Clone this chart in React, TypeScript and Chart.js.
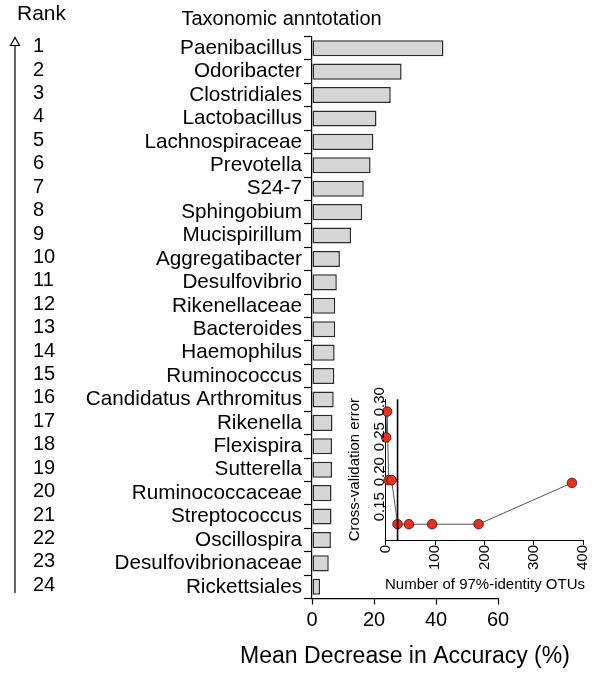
import React, { useEffect, useRef } from "react";
import { Chart, registerables } from "chart.js";

Chart.register(...registerables);

// Random-forest importance of taxa, ranked
const taxa = [
  "Paenibacillus",
  "Odoribacter",
  "Clostridiales",
  "Lactobacillus",
  "Lachnospiraceae",
  "Prevotella",
  "S24-7",
  "Sphingobium",
  "Mucispirillum",
  "Aggregatibacter",
  "Desulfovibrio",
  "Rikenellaceae",
  "Bacteroides",
  "Haemophilus",
  "Ruminococcus",
  "Candidatus Arthromitus",
  "Rikenella",
  "Flexispira",
  "Sutterella",
  "Ruminococcaceae",
  "Streptococcus",
  "Oscillospira",
  "Desulfovibrionaceae",
  "Rickettsiales",
];
const meanDecrease = [
  42.4, 28.9, 25.4, 20.8, 19.8, 18.9, 16.7, 16.2, 12.6, 9.0, 8.0, 7.5, 7.5,
  7.3, 7.2, 7.0, 6.6, 6.45, 6.45, 6.3, 6.3, 6.1, 5.4, 2.6,
];
const rankLabels = [
  "1", "2", "3", "4", "5", "6", "7", "8", "9", "10", "11", "12",
  "13", "14", "15", "16", "17", "18", "19", "20", "21", "22", "23", "24",
];
const accuracyTicks = [0, 20, 40, 60];

// Cross-validation curve
const otuCounts = [1, 3, 6, 12, 24, 47, 94, 188, 377];
const cvError = [0.249, 0.286, 0.188, 0.188, 0.125, 0.125, 0.125, 0.125, 0.184];
const otuTicks = [0, 100, 200, 300, 400];
const errorTicks = [0.15, 0.2, 0.25, 0.3];
const selectedOtus = 24;

const FONT = '"Liberation Sans", Arial, Helvetica, sans-serif';

const decorPlugin = {
  id: "rankDecor",
  afterDraw(chart: any) {
    const ctx = chart.ctx;
    const yScale = chart.scales.y;
    ctx.save();
    ctx.fillStyle = "#000";
    ctx.textBaseline = "alphabetic";
    ctx.textAlign = "left";
    ctx.font = `21px ${FONT}`;
    ctx.fillText("Rank", 17, 20);
    ctx.font = `20px ${FONT}`;
    ctx.fillText("Taxonomic anntotation", 181.5, 25);

    ctx.font = `20px ${FONT}`;
    ctx.textBaseline = "middle";
    rankLabels.forEach((r, i) => {
      ctx.fillText(r, 33, yScale.getPixelForValue(i) - 1.5);
    });

    // arrow pointing to rank 1
    ctx.strokeStyle = "#000";
    ctx.lineWidth = 1.2;
    ctx.beginPath();
    ctx.moveTo(15, 45);
    ctx.lineTo(15, 593);
    ctx.stroke();
    ctx.beginPath();
    ctx.moveTo(15, 37.5);
    ctx.lineTo(10.5, 45.5);
    ctx.lineTo(19.5, 45.5);
    ctx.closePath();
    ctx.fillStyle = "#fff";
    ctx.fill();
    ctx.stroke();

    // x-axis title
    ctx.fillStyle = "#000";
    ctx.font = `23px ${FONT}`;
    ctx.textAlign = "center";
    ctx.textBaseline = "alphabetic";
    const xs = chart.scales.x;
    ctx.fillText("Mean Decrease in Accuracy (%)", (xs.left + xs.right) / 2, 663);
    ctx.restore();
  },
};

const insetPlugin = {
  id: "cvInset",
  afterDatasetsDraw(chart: any) {
    const ctx = chart.ctx;
    const xs = chart.scales.x;
    ctx.save();
    // chosen number of OTUs
    const vx = xs.getPixelForValue(selectedOtus);
    ctx.strokeStyle = "#000";
    ctx.lineWidth = 1.6;
    ctx.beginPath();
    ctx.moveTo(vx, chart.chartArea.top);
    ctx.lineTo(vx, chart.chartArea.bottom);
    ctx.stroke();
    ctx.restore();
  },
  afterDraw(chart: any) {
    const ctx = chart.ctx;
    const xs = chart.scales.x;
    const ys = chart.scales.y;
    const area = chart.chartArea;
    ctx.save();
    ctx.fillStyle = "#000";
    ctx.font = `15px ${FONT}`;

    // y tick labels, vertical
    ctx.textAlign = "center";
    ctx.textBaseline = "alphabetic";
    errorTicks.forEach((v) => {
      const py = ys.getPixelForValue(v);
      ctx.save();
      ctx.translate(383.5, py);
      ctx.rotate(-Math.PI / 2);
      ctx.fillText(v.toFixed(2), 0, 0);
      ctx.restore();
    });

    // x tick labels, vertical
    ctx.textAlign = "right";
    ctx.textBaseline = "middle";
    otuTicks.forEach((v) => {
      const px = xs.getPixelForValue(v);
      ctx.save();
      ctx.translate(px, area.bottom + 5);
      ctx.rotate(-Math.PI / 2);
      ctx.fillText(String(v), 0, 0);
      ctx.restore();
    });

    ctx.font = `15px ${FONT}`;
    ctx.textAlign = "center";
    ctx.textBaseline = "alphabetic";
    ctx.fillText("Number of 97%-identity OTUs", 485, 588.5);
    ctx.save();
    ctx.translate(359, (area.top + area.bottom) / 2);
    ctx.rotate(-Math.PI / 2);
    ctx.fillText("Cross-validation error", 0, 0);
    ctx.restore();
    ctx.restore();
  },
};

export default function App() {
  const mainRef = useRef<HTMLCanvasElement>(null);
  const insetRef = useRef<HTMLCanvasElement>(null);

  useEffect(() => {
    const main = new Chart(mainRef.current as HTMLCanvasElement, {
      type: "bar",
      data: {
        labels: taxa,
        datasets: [
          {
            data: meanDecrease,
            backgroundColor: "#d6d6d6",
            borderColor: "#2b2b2b",
            borderWidth: 1.5,
            borderSkipped: false,
            barPercentage: 0.69,
            categoryPercentage: 1,
          },
        ],
      },
      options: {
        indexAxis: "y",
        responsive: false,
        animation: false,
        events: [],
        layout: { padding: { top: 36.5, right: 103, bottom: 0, left: 0 } },
        plugins: {
          legend: { display: false },
          tooltip: { enabled: false },
          title: { display: false },
        },
        scales: {
          x: {
            type: "linear",
            min: 0,
            max: 60,
            afterBuildTicks: (s: any) => {
              s.ticks = accuracyTicks.map((v) => ({ value: v }));
            },
            afterFit: (s: any) => {
              s.height = 76.5;
            },
            grid: {
              drawOnChartArea: false,
              drawTicks: true,
              tickLength: 6,
              tickColor: "#000",
              tickWidth: 1.2,
            },
            border: { display: true, color: "#000", width: 1.2 },
            ticks: {
              color: "#000",
              font: { family: FONT, size: 20 },
              padding: 4,
              maxRotation: 0,
              minRotation: 0,
            },
          },
          y: {
            type: "category",
            afterFit: (s: any) => {
              s.width = 312;
            },
            grid: {
              drawOnChartArea: false,
              drawTicks: true,
              tickLength: 8,
              tickColor: "#000",
              tickWidth: 1.2,
              offset: true,
            },
            border: { display: true, color: "#000", width: 1.2 },
            ticks: {
              color: "#000",
              font: { family: FONT, size: 20.7 },
              padding: 2,
              autoSkip: false,
            },
          },
        },
      },
      plugins: [decorPlugin],
    } as any);

    const inset = new Chart(insetRef.current as HTMLCanvasElement, {
      type: "scatter",
      data: {
        datasets: [
          {
            data: otuCounts.map((n, i) => ({ x: n, y: cvError[i] })),
            showLine: true,
            borderColor: "#555",
            borderWidth: 1,
            pointRadius: 4.8,
            pointBackgroundColor: "#e8301f",
            pointBorderColor: "#3a1010",
            pointBorderWidth: 0.8,
            clip: false,
          },
        ],
      },
      options: {
        responsive: false,
        animation: false,
        events: [],
        layout: { padding: { top: 399.3, right: 17.7, bottom: 0, left: 0 } },
        plugins: {
          legend: { display: false },
          tooltip: { enabled: false },
        },
        scales: {
          x: {
            type: "linear",
            min: 0,
            max: 400,
            afterBuildTicks: (s: any) => {
              s.ticks = otuTicks.map((v) => ({ value: v }));
            },
            afterFit: (s: any) => {
              s.height = 135;
            },
            grid: {
              drawOnChartArea: false,
              drawTicks: true,
              tickLength: 5,
              tickColor: "#000",
              tickWidth: 1,
            },
            border: { display: true, color: "#000", width: 1 },
            ticks: { display: false },
          },
          y: {
            type: "linear",
            min: 0.1024,
            max: 0.3035,
            afterBuildTicks: (s: any) => {
              s.ticks = errorTicks.map((v) => ({ value: v }));
            },
            afterFit: (s: any) => {
              s.width = 385.7;
            },
            grid: {
              drawOnChartArea: false,
              drawTicks: true,
              tickLength: 3,
              tickColor: "#000",
              tickWidth: 1,
            },
            border: { display: true, color: "#000", width: 1 },
            ticks: { display: false },
          },
        },
      },
      plugins: [insetPlugin],
    } as any);

    return () => {
      main.destroy();
      inset.destroy();
    };
  }, []);

  const layer: React.CSSProperties = {
    position: "absolute",
    left: 0,
    top: 0,
    width: 601,
    height: 675,
  };

  return (
    <div style={{ position: "absolute", left: 0, top: 0, width: 601, height: 675, background: "#fff" }}>
      <canvas ref={mainRef} width={601} height={675} style={layer} />
      <canvas ref={insetRef} width={601} height={675} style={layer} />
    </div>
  );
}
